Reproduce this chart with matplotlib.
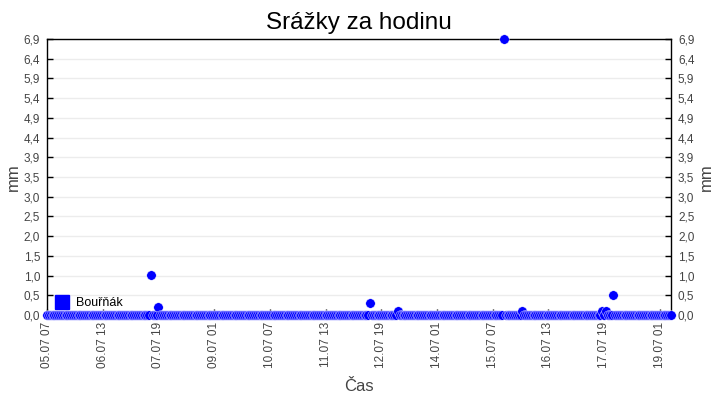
import matplotlib
matplotlib.use("Agg")
import matplotlib.pyplot as plt
from matplotlib.lines import Line2D
from datetime import datetime, timedelta
import numpy as np

plt.rcParams['font.family'] = ['Liberation Sans', 'DejaVu Sans']

# hourly readings, 05.07 07:00 .. 19.07 07:00
start = datetime(2000, 7, 5, 7)
n_hours = 337
# hours (from start) with non-zero rain, everything else read as 0,0
rain_hours = [56, 60, 174, 189, 246, 256, 299, 301, 305]
rain_mm = [1.0, 0.2, 0.3, 0.1, 6.9, 0.1, 0.1, 0.1, 0.5]
series_name = "Bouřňák"

hours = np.arange(n_hours)
values = np.zeros(n_hours)
values[rain_hours] = rain_mm

tick_hours = np.arange(0, n_hours, 30)
tick_labels = [(start + timedelta(hours=int(h))).strftime("%d.%m %H") for h in tick_hours]

ymax = 6.9
yticks = np.linspace(0, ymax, 15)
ytick_labels = [f"{v:.1f}".replace(".", ",") for v in yticks]
ytick_labels[7] = "3,5"

fig = plt.figure(figsize=(7.2, 4.0), dpi=100)
ax = fig.add_axes([47 / 720, 1 - 315 / 400, 624 / 720, 276 / 400])

ax.plot(hours, values, linestyle='none', marker='o', markersize=6.8,
        markerfacecolor='#0000ff', markeredgecolor='white', markeredgewidth=0.3,
        clip_on=False, zorder=3)

ax.set_xlim(0, n_hours - 1)
ax.set_ylim(0, ymax)
ax.set_yticks(yticks)
ax.set_yticklabels(ytick_labels)
ax.set_xticks(tick_hours)
ax.set_xticklabels(tick_labels, rotation=90)

ax.grid(axis='y', color='#ececec', linewidth=1)
ax.set_axisbelow(True)
ax.tick_params(axis='both', direction='in', length=4, width=1, labelsize=8.5,
               labelcolor='#444444', pad=5)
ax.tick_params(axis='y', left=True, right=True, labelleft=True, labelright=True)
for s in ax.spines.values():
    s.set_linewidth(1.0)

ax.set_title("Srážky za hodinu", fontsize=17.5, pad=7)
ax.set_xlabel("Čas", fontsize=12, color='#444444', labelpad=8)
ax.set_ylabel("mm", fontsize=12, color='#444444', labelpad=2)
fig.text(706 / 720, 1 - 177 / 400, "mm", rotation=90, fontsize=12, color='#444444',
         ha='center', va='center')

handle = Line2D([], [], linestyle='none', marker='s', markersize=9.5, color='#0000ff')
ax.legend([handle], [series_name], loc='lower left', bbox_to_anchor=(0.0, -0.005),
          frameon=False, fontsize=9, handletextpad=0.5, handlelength=1.2, borderaxespad=0.2)

fig.savefig("out.png", dpi=100)
